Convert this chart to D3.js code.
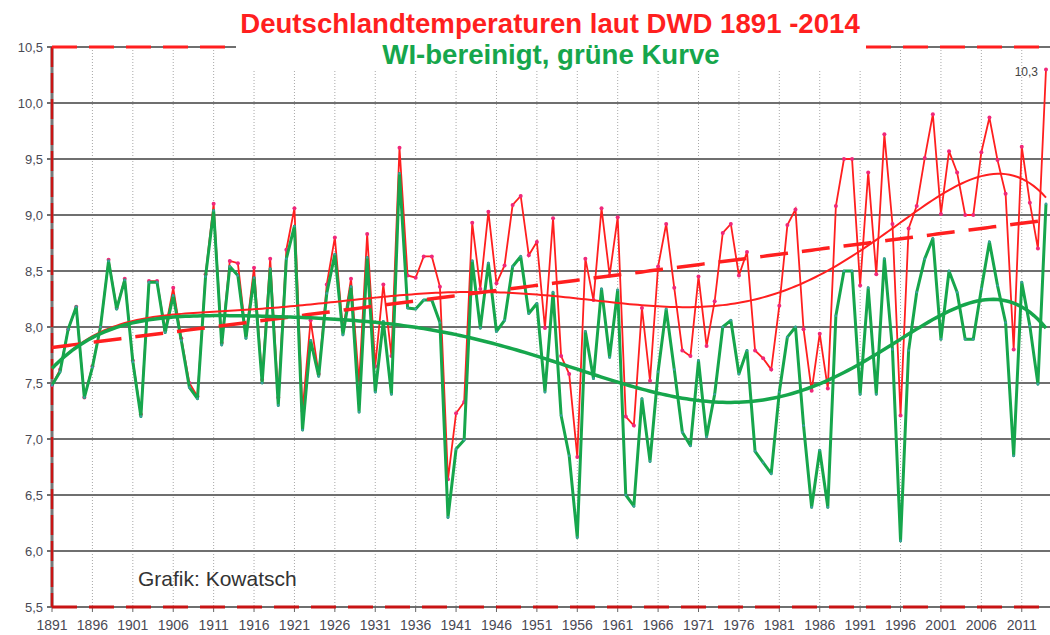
<!DOCTYPE html>
<html>
<head>
<meta charset="utf-8">
<script src="https://cdn.jsdelivr.net/npm/d3@7"></script>
<style>
  body { margin: 0; background: #fff; }
  svg { display: block; font-family: "Liberation Sans", Arial, sans-serif; }
</style>
</head>
<body>
<svg id="chart" width="1050" height="635"></svg>
<script>
// Deutschlandtemperaturen DWD 1891-2014, rot = DWD, gruen = WI-bereinigt
const firstYear = 1891
const lastYear = 2014

const dwdTemps = [
  7.48, 7.62, 7.98, 8.18, 7.37, 7.65, 8.0, 8.6, 8.17, 8.43,   // 1891-1900
  7.7, 7.22, 8.41, 8.41, 7.97, 8.35, 7.9, 7.5, 7.38, 8.47,    // 1901-1910
  9.1, 7.86, 8.59, 8.57, 7.93, 8.53, 7.53, 8.61, 7.37, 8.69,  // 1911-1920
  9.06, 7.25, 8.06, 7.58, 8.38, 8.8, 7.97, 8.43, 7.5, 8.83,   // 1921-1930
  7.65, 8.38, 7.74, 9.6, 8.46, 8.44, 8.63, 8.63, 8.36, 6.64,  // 1931-1940
  7.23, 7.33, 8.93, 8.34, 9.03, 8.39, 8.55, 9.09, 9.17, 8.64, // 1941-1950
  8.76, 7.99, 8.97, 7.74, 7.58, 6.84, 8.61, 8.24, 9.06, 8.46, // 1951-1960
  8.98, 7.2, 7.12, 8.17, 7.52, 8.54, 8.92, 8.35, 7.79, 7.74,  // 1961-1970
  8.45, 7.83, 8.23, 8.84, 8.92, 8.46, 8.67, 7.79, 7.72, 7.62, // 1971-1980
  8.19, 8.91, 9.05, 7.98, 7.43, 7.94, 7.45, 9.08, 9.5, 9.5,   // 1981-1990
  8.37, 9.38, 8.47, 9.72, 8.92, 7.21, 8.88, 9.08, 9.51, 9.9,  // 1991-2000
  9.01, 9.57, 9.38, 9.0, 9.0, 9.56, 9.87, 9.49, 9.19, 7.8,    // 2001-2010
  9.61, 9.11, 8.7, 10.3                                       // 2011-2014
]

const wiTemps = [
  7.48, 7.6, 7.98, 8.18, 7.37, 7.64, 8.0, 8.59, 8.16, 8.42,   // 1891-1900
  7.69, 7.2, 8.4, 8.4, 7.95, 8.28, 7.88, 7.46, 7.36, 8.45,    // 1901-1910
  9.04, 7.84, 8.54, 8.46, 7.9, 8.44, 7.5, 8.52, 7.3, 8.61,    // 1911-1920
  8.9, 7.08, 7.88, 7.56, 8.3, 8.65, 7.93, 8.36, 7.24, 8.62,   // 1921-1930
  7.42, 8.05, 7.4, 9.37, 8.17, 8.16, 8.24, 8.24, 8.04, 6.3,   // 1931-1940
  6.91, 6.99, 8.59, 7.99, 8.57, 7.96, 8.06, 8.54, 8.63, 8.12, // 1941-1950
  8.21, 7.42, 8.31, 7.21, 6.85, 6.12, 7.96, 7.54, 8.34, 7.73, // 1951-1960
  8.33, 6.5, 6.4, 7.36, 6.8, 7.6, 8.16, 7.62, 7.06, 6.94,     // 1961-1970
  7.7, 7.02, 7.4, 8.0, 8.06, 7.58, 7.79, 6.89, 6.79, 6.69,    // 1971-1980
  7.42, 7.91, 8.0, 7.12, 6.39, 6.9, 6.39, 8.1, 8.5, 8.5,      // 1981-1990
  7.4, 8.35, 7.4, 8.61, 7.8, 6.09, 7.79, 8.31, 8.61, 8.79,    // 1991-2000
  7.89, 8.5, 8.31, 7.89, 7.89, 8.34, 8.76, 8.37, 8.04, 6.85,  // 2001-2010
  8.4, 8.01, 7.49, 9.1                                        // 2011-2014
]

const yTicks = [5.5, 6.0, 6.5, 7.0, 7.5, 8.0, 8.5, 9.0, 9.5, 10.0, 10.5]
const xTickYears = d3.range(firstYear, lastYear, 5)

const titleText = 'Deutschlandtemperaturen laut DWD 1891 -2014'
const subtitleText = 'WI-bereinigt, grüne Kurve'
const creditText = 'Grafik: Kowatsch'

const years = d3.range(firstYear, lastYear + 1)
const dwd = years.map((y, i) => ({year: y, value: dwdTemps[i]}))
const wi = years.map((y, i) => ({year: y, value: wiTemps[i]}))

const red = '#ff1f1f'
const green = '#16a64c'
const axisRed = '#c81414'

// least squares polynomial, x scaled to [-1, 1]
function polyFit(data, order) {
  const mid = (firstYear + lastYear) / 2, half = (lastYear - firstYear) / 2
  const n = order + 1
  const A = Array.from({length: n}, () => new Array(n + 1).fill(0))
  data.forEach(d => {
    const t = (d.year - mid) / half
    const p = d3.range(n).map(k => Math.pow(t, k))
    for (let i = 0; i < n; i++) {
      for (let j = 0; j < n; j++) A[i][j] += p[i] * p[j]
      A[i][n] += p[i] * d.value
    }
  })
  for (let c = 0; c < n; c++) {
    let piv = c
    for (let r = c + 1; r < n; r++) if (Math.abs(A[r][c]) > Math.abs(A[piv][c])) piv = r;
    [A[c], A[piv]] = [A[piv], A[c]]
    for (let r = 0; r < n; r++) {
      if (r === c) continue
      const f = A[r][c] / A[c][c]
      for (let k = c; k <= n; k++) A[r][k] -= f * A[c][k]
    }
  }
  const coef = A.map((row, i) => row[n] / row[i])
  return yr => {
    const t = (yr - mid) / half
    return coef.reduce((s, c, k) => s + c * Math.pow(t, k), 0)
  }
}

const svg = d3.select('#chart')
const x = d3.scaleLinear().domain([firstYear, lastYear]).range([52, 1046])
const y = d3.scaleLinear().domain([5.5, 10.5]).range([607, 47])

// grid
svg.append('g').selectAll('line')
  .data(xTickYears.slice(1)).enter().append('line')
  .attr('x1', d => x(d)).attr('x2', d => x(d))
  .attr('y1', y(10.5)).attr('y2', y(5.5))
  .attr('stroke', '#a8a8a8').attr('stroke-width', 1)
  .attr('stroke-dasharray', '1,2')

svg.append('g').selectAll('line')
  .data(yTicks).enter().append('line')
  .attr('x1', 47).attr('x2', 1050)
  .attr('y1', d => y(d)).attr('y2', d => y(d))
  .attr('stroke', '#6f6f6f').attr('stroke-width', 1.8)

// x ticks
svg.append('g').selectAll('line')
  .data(xTickYears).enter().append('line')
  .attr('x1', d => x(d)).attr('x2', d => x(d))
  .attr('y1', y(5.5)).attr('y2', y(5.5) + 5)
  .attr('stroke', '#666').attr('stroke-width', 1)

// dashed red frame
svg.append('line')
  .attr('x1', x(firstYear)).attr('x2', x(firstYear))
  .attr('y1', y(10.5)).attr('y2', y(5.5))
  .attr('stroke', '#777').attr('stroke-width', 3)
svg.append('line')
  .attr('x1', x(firstYear)).attr('x2', x(firstYear))
  .attr('y1', y(10.5)).attr('y2', y(5.5))
  .attr('stroke', axisRed).attr('stroke-width', 2.5)
  .attr('stroke-dasharray', '20,6')
svg.append('line')
  .attr('x1', x(firstYear)).attr('x2', 1050)
  .attr('y1', y(5.5)).attr('y2', y(5.5))
  .attr('stroke', axisRed).attr('stroke-width', 3)
  .attr('stroke-dasharray', '25,12')
svg.append('line')
  .attr('x1', x(firstYear)).attr('x2', 1050)
  .attr('y1', y(10.5)).attr('y2', y(10.5))
  .attr('stroke', red).attr('stroke-width', 3)
  .attr('stroke-dasharray', '25,12')

// title area covers the top line
svg.append('rect')
  .attr('x', 236).attr('y', 0).attr('width', 630).attr('height', 70)
  .attr('fill', '#fff')

// y labels
svg.append('g').selectAll('text')
  .data(yTicks).enter().append('text')
  .attr('x', 43).attr('y', d => y(d)).attr('dy', '0.35em')
  .attr('text-anchor', 'end')
  .style('font-size', '13px').attr('fill', '#4a4a55')
  .text(d => d.toFixed(1).replace('.', ','))

// x labels
svg.append('g').selectAll('text')
  .data(xTickYears).enter().append('text')
  .attr('x', d => x(d)).attr('y', 630)
  .attr('text-anchor', 'middle')
  .style('font-size', '14px').attr('fill', '#4a4a55')
  .text(d => d)

const line = d3.line().x(d => x(d.year)).y(d => y(d.value))

// DWD series
svg.append('path').datum(dwd)
  .attr('d', line).attr('fill', 'none')
  .attr('stroke', red).attr('stroke-width', 1.8)
svg.append('g').selectAll('circle')
  .data(dwd).enter().append('circle')
  .attr('cx', d => x(d.year)).attr('cy', d => y(d.value)).attr('r', 2)
  .attr('fill', '#f0287a')

// WI series
svg.append('path').datum(wi)
  .attr('d', line).attr('fill', 'none')
  .attr('stroke', green).attr('stroke-width', 3)
  .attr('stroke-linejoin', 'round')
svg.append('g').selectAll('circle')
  .data(wi).enter().append('circle')
  .attr('cx', d => x(d.year)).attr('cy', d => y(d.value)).attr('r', 1.3)
  .attr('fill', '#3a9fa0')

// trends
const fine = d3.range(firstYear, lastYear + 0.01, 0.5)
const linFit = polyFit(dwd, 1)
const dwdFit = polyFit(dwd, 6)
const wiFit = polyFit(wi, 6)

svg.append('path').datum(fine.map(t => ({year: t, value: linFit(t)})))
  .attr('d', line).attr('fill', 'none')
  .attr('stroke', red).attr('stroke-width', 3.5)
  .attr('stroke-dasharray', '28,14')
svg.append('path').datum(fine.map(t => ({year: t, value: dwdFit(t)})))
  .attr('d', line).attr('fill', 'none')
  .attr('stroke', red).attr('stroke-width', 2)
svg.append('path').datum(fine.map(t => ({year: t, value: wiFit(t)})))
  .attr('d', line).attr('fill', 'none')
  .attr('stroke', green).attr('stroke-width', 3.5)

// value label for last year
const last = dwd[dwd.length - 1]
svg.append('text')
  .attr('x', x(last.year) - 8).attr('y', y(last.value) + 7)
  .attr('text-anchor', 'end')
  .style('font-size', '12px').attr('fill', '#444')
  .text(last.value.toFixed(1).replace('.', ','))

// titles
svg.append('text')
  .attr('x', 550).attr('y', 33).attr('text-anchor', 'middle')
  .style('font-size', '27.6px').style('font-weight', 'bold')
  .attr('fill', red).text(titleText)
svg.append('text')
  .attr('x', 551).attr('y', 64).attr('text-anchor', 'middle')
  .style('font-size', '27.6px').style('font-weight', 'bold')
  .attr('fill', green).text(subtitleText)

svg.append('text')
  .attr('x', 138).attr('y', 586)
  .style('font-size', '21px').attr('fill', '#333')
  .text(creditText)
</script>
</body>
</html>
